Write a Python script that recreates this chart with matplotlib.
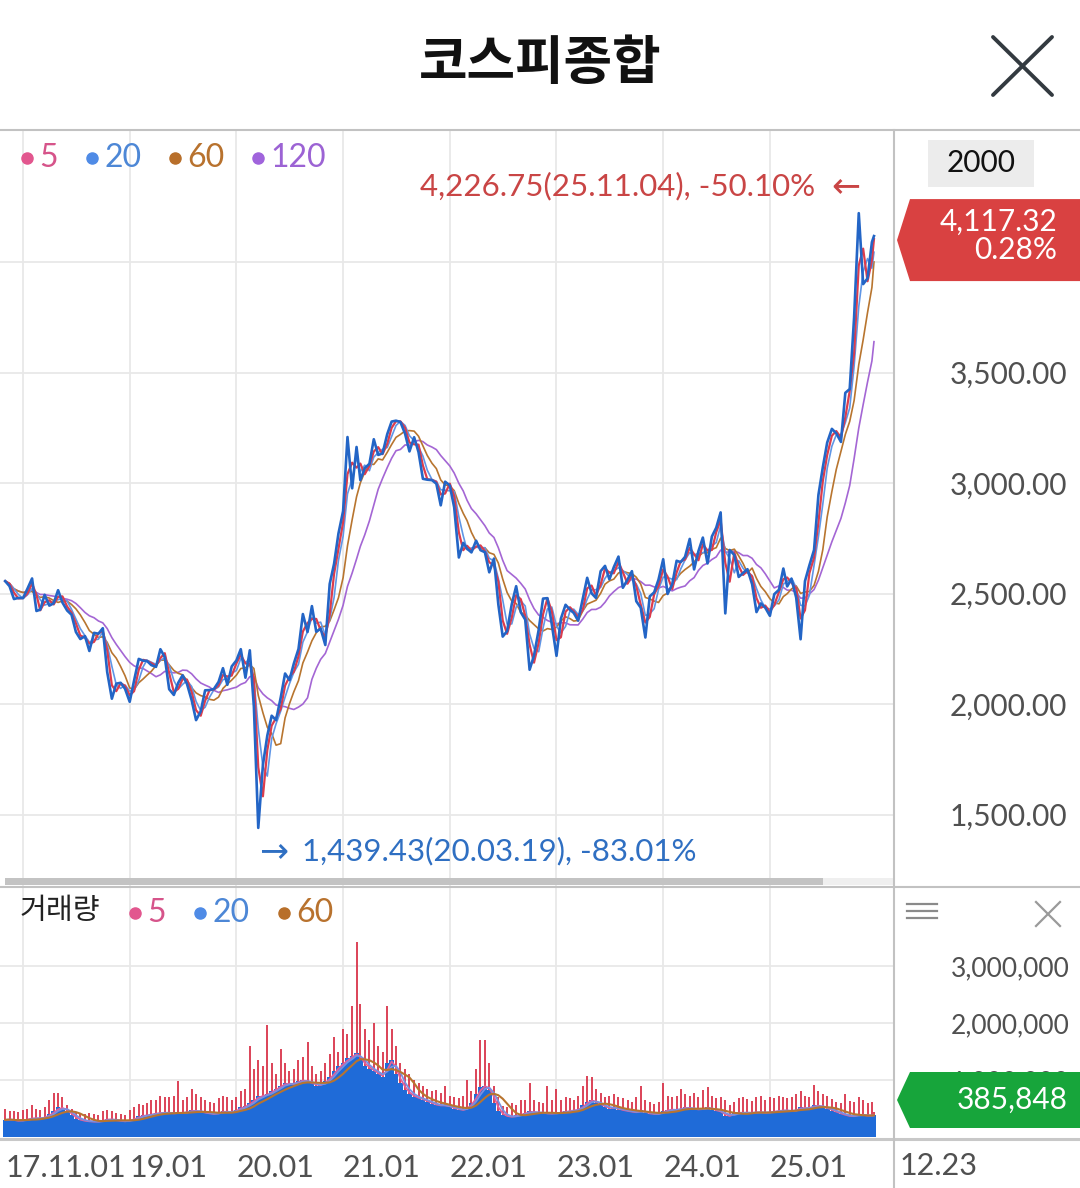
import numpy as np
import pandas as pd
import matplotlib
matplotlib.use("Agg")
import matplotlib.pyplot as plt
from matplotlib.patches import Rectangle, Polygon
from matplotlib.lines import Line2D

# --- KOSPI, two readings per month (1st and 16th) ---
price_2017 = [2556, 2533, 2475, 2480]
price_2018 = [2479, 2521, 2568, 2421, 2427, 2494, 2445, 2456, 2515, 2459, 2423, 2404,
              2326, 2294, 2307, 2240, 2322, 2318, 2343, 2145, 2024, 2092, 2096, 2069]
price_2019 = [2010, 2106, 2204, 2196, 2195, 2176, 2168, 2248, 2212, 2067, 2041, 2096,
              2130, 2091, 2017, 1927, 1967, 2062, 2063, 2068, 2100, 2162, 2087, 2170]
price_2020 = [2197, 2248, 2119, 2243, 1987, 1439.43, 1725, 1857, 1947, 1927, 2029, 2138,
              2108, 2183, 2249, 2407, 2326, 2443, 2327, 2341, 2267, 2543, 2634, 2771]
price_2021 = [2873, 3208, 2976, 3163, 3013, 3067, 3087, 3198, 3127, 3134, 3221, 3278,
              3282, 3276, 3223, 3143, 3207, 3140, 3019, 3015, 3013, 2997, 2899, 3006]
price_2022 = [2989, 2890, 2663, 2729, 2703, 2686, 2739, 2696, 2687, 2596, 2658, 2451,
              2305, 2330, 2452, 2533, 2415, 2382, 2155, 2219, 2335, 2477, 2479, 2360]
price_2023 = [2218, 2386, 2449, 2427, 2412, 2377, 2476, 2571, 2501, 2480, 2601, 2625,
              2564, 2619, 2667, 2526, 2563, 2601, 2465, 2436, 2301, 2487, 2505, 2563]
price_2024 = [2655, 2498, 2542, 2648, 2642, 2666, 2747, 2609, 2692, 2753, 2636, 2758,
              2798, 2867, 2410, 2697, 2674, 2575, 2593, 2610, 2542, 2416, 2455, 2436]
price_2025 = [2399, 2497, 2517, 2613, 2532, 2566, 2481, 2293, 2556, 2627, 2697, 2946,
              3071, 3183, 3245, 3225, 3186, 3408, 3425, 3748, 4221, 3900, 3926, 4090]
last_date = "2025-12-23"
last_close = 4117.32
last_change = "0.28%"

# volume in thousands: typical level and the highest day of each half month
vol_2017 = [300, 310, 290, 280]
hi_2017 = [500, 460, 450, 440]
vol_2018 = [300, 310, 340, 320, 330, 350, 400, 450, 520, 500, 450, 380,
            320, 290, 280, 270, 270, 270, 290, 320, 300, 290, 280, 270]
hi_2018 = [480, 500, 560, 500, 480, 520, 650, 780, 780, 700, 560, 500,
           430, 420, 400, 420, 400, 380, 450, 480, 460, 420, 400, 380]
vol_2019 = [300, 320, 360, 380, 380, 400, 420, 420, 430, 420, 410, 430,
            420, 440, 470, 450, 440, 420, 410, 400, 430, 450, 440, 430]
hi_2019 = [480, 520, 580, 560, 600, 650, 650, 720, 700, 700, 720, 980,
           650, 700, 850, 760, 700, 650, 620, 600, 680, 720, 700, 650]
vol_2020 = [480, 520, 540, 600, 650, 720, 720, 760, 800, 850, 900, 950,
            920, 940, 980, 1000, 960, 940, 900, 920, 980, 1050, 1150, 1250]
hi_2020 = [700, 800, 850, 1600, 1200, 1350, 1250, 1970, 1300, 1100, 1550, 1300,
           1150, 1200, 1350, 1400, 1660, 1250, 1100, 1150, 1300, 1450, 1750, 1500]
vol_2021 = [1300, 1380, 1420, 1480, 1350, 1250, 1200, 1150, 1100, 1050, 1300, 1350,
            1100, 950, 820, 750, 700, 680, 650, 620, 580, 560, 550, 560]
hi_2021 = [1900, 1800, 2300, 3420, 2340, 1900, 1700, 2000, 1600, 1500, 2300, 1900,
           1600, 1300, 1200, 1100, 1000, 950, 900, 850, 800, 820, 780, 900]
vol_2022 = [520, 500, 480, 470, 520, 600, 750, 880, 900, 820, 600, 450,
            380, 360, 350, 380, 400, 420, 450, 430, 420, 430, 400, 420]
hi_2022 = [720, 700, 680, 720, 1000, 800, 1200, 1700, 1700, 1300, 900, 700,
           550, 520, 600, 560, 650, 650, 950, 650, 620, 600, 900, 650]
vol_2023 = [420, 430, 450, 460, 470, 480, 560, 620, 650, 600, 560, 520,
            500, 520, 480, 470, 450, 440, 430, 470, 420, 410, 400, 410]
hi_2023 = [850, 650, 700, 680, 650, 720, 900, 1070, 1050, 850, 780, 700,
           720, 760, 700, 680, 650, 620, 700, 900, 650, 620, 580, 620]
vol_2024 = [450, 480, 480, 470, 500, 520, 500, 490, 480, 500, 520, 480,
            460, 440, 360, 380, 420, 430, 420, 430, 420, 440, 430, 420]
hi_2024 = [950, 720, 700, 720, 850, 760, 720, 780, 700, 820, 880, 720,
           680, 700, 650, 560, 620, 680, 700, 660, 640, 700, 720, 650]
vol_2025 = [440, 450, 460, 470, 460, 450, 480, 520, 500, 510, 560, 540,
            520, 500, 460, 430, 400, 380, 360, 370, 400, 380, 370, 380]
hi_2025 = [700, 680, 720, 700, 680, 700, 760, 800, 720, 700, 920, 800,
           760, 720, 660, 620, 600, 750, 640, 620, 700, 650, 600, 620]
vol_last = 385.848
hi_last = 430

# 4,000 line has no visible label (hidden under the price tag)
price_ticks = [1500, 2000, 2500, 3000, 3500, 4000]
price_tick_labels = ["1,500.00", "2,000.00", "2,500.00", "3,000.00", "3,500.00", ""]
vol_ticks = [1_000_000, 2_000_000, 3_000_000]
year_ticks = [2018, 2019, 2020, 2021, 2022, 2023, 2024, 2025]
year_labels = ["", "19.01", "20.01", "21.01", "22.01", "23.01", "24.01", "25.01"]
first_label = "17.11.01"
last_label = "12.23"

# moving average windows, in half-month steps (5, 20, 60, 120 trading days)
ma_steps = {5: 2, 20: 3, 60: 6, 120: 12}

price = np.array(price_2017 + price_2018 + price_2019 + price_2020 + price_2021
                 + price_2022 + price_2023 + price_2024 + price_2025 + [last_close])
vol = 1000 * np.array(vol_2017 + vol_2018 + vol_2019 + vol_2020 + vol_2021
                      + vol_2022 + vol_2023 + vol_2024 + vol_2025 + [vol_last])
vol_hi = 1000 * np.array(hi_2017 + hi_2018 + hi_2019 + hi_2020 + hi_2021
                         + hi_2022 + hi_2023 + hi_2024 + hi_2025 + [hi_last])

months = pd.date_range("2017-11-01", "2025-12-01", freq="MS")
dates = []
for m in months:
    dates += [m, m + pd.Timedelta(days=15)]
dates.append(pd.Timestamp(last_date))
dates = pd.DatetimeIndex(dates)
xs = dates.year + (dates.dayofyear - 1) / np.where(dates.is_leap_year, 366, 365)
assert len(xs) == len(price) == len(vol) == len(vol_hi)

ps = pd.Series(price)
vs = pd.Series(vol)

# ---------------------------------------------------------------
W, H = 1080, 1188
fig = plt.figure(figsize=(W / 100, H / 100), dpi=100)
fig.patch.set_facecolor("white")


def fx(px):
    return px / W


def fy(py):
    return 1 - py / H


NUM = ["Lato", "DejaVu Sans"]
KR = ["Noto Sans CJK KR", "DejaVu Sans"]
GRID = "#e8e8e8"
SEP = "#c2c2c2"
LBL = "#505050"

# one year = 106.7 px, 2018-01 grid line at x = 23 px
x_lo = 2018 - 23 / 106.7
x_hi = 2018 + (893 - 23) / 106.7

# ---- price panel ----
ax = fig.add_axes([0, fy(886), fx(893), (886 - 131) / H])
ax.set_xlim(x_lo, x_hi)
ax.set_ylim(1176.5, 4592.8)
for s in ax.spines.values():
    s.set_visible(False)
ax.set_xticks(year_ticks)
ax.tick_params(axis="x", length=0, labelbottom=False)
ax.yaxis.tick_right()
ax.set_yticks(price_ticks, labels=price_tick_labels)
ax.tick_params(axis="y", length=0, pad=125.3, labelsize=21.5, labelcolor=LBL)
for lbl in ax.get_yticklabels():
    lbl.set_ha("right")
    lbl.set_fontfamily(NUM)
ax.grid(True, color=GRID, lw=1.3)

ax.plot(xs, ps.rolling(ma_steps[120], min_periods=1).mean(), color="#a466d4", lw=1.2, zorder=2)
ax.plot(xs, ps.rolling(ma_steps[60], min_periods=1).mean(), color="#b8752f", lw=1.2, zorder=2.2)
ax.plot(xs, ps.rolling(ma_steps[20], min_periods=1).mean(), color="#5f96e6", lw=1.2, zorder=2.4)
ax.plot(xs, ps.rolling(ma_steps[5], min_periods=1).mean(), color="#dc3c4c", lw=1.6, zorder=2.6)
ax.plot(xs, price, color="#2365c6", lw=1.9, zorder=3)

# ---- volume panel ----
axv = fig.add_axes([0, fy(1137), fx(893), (1137 - 887) / H])
axv.set_xlim(x_lo, x_hi)
axv.set_ylim(0, (1137 - 887) / 57 * 1e6)
for s in axv.spines.values():
    s.set_visible(False)
axv.set_xticks(year_ticks, labels=year_labels)
axv.set_xticks([xs[0]], labels=[first_label], minor=True)
axv.tick_params(axis="x", which="both", length=0, pad=12.5, labelsize=22, labelcolor=LBL)
for lbl in axv.get_xticklabels(which="both"):
    lbl.set_ha("left")
    lbl.set_fontfamily(NUM)
axv.yaxis.tick_right()
axv.set_yticks(vol_ticks, labels=[f"{v:,}" for v in vol_ticks])
axv.tick_params(axis="y", length=0, pad=127.4, labelsize=19, labelcolor=LBL)
for lbl in axv.get_yticklabels():
    lbl.set_ha("right")
    lbl.set_fontfamily(NUM)
axv.grid(True, which="major", color=GRID, lw=1.3)

axv.vlines(xs, 0, vol_hi, color="#d9344a", lw=1.3, zorder=2)
axv.bar(xs, vol, width=0.045, color="#1f6bd8", lw=0, zorder=2.5)
axv.plot(xs, vs.rolling(ma_steps[5], min_periods=1).mean(), color="#e2609a", lw=1.3, zorder=3)
axv.plot(xs, vs.rolling(ma_steps[20], min_periods=1).mean(), color="#7a8fe0", lw=1.3, zorder=3.1)
axv.plot(xs, vs.rolling(ma_steps[60], min_periods=1).mean(), color="#b8742f", lw=1.5, zorder=3.2)


# ---- frame, separators, scrollbar ----
def hline(y, x0=0, x1=W, color=SEP, lw=1.5):
    fig.add_artist(Line2D([fx(x0), fx(x1)], [fy(y), fy(y)], transform=fig.transFigure,
                          color=color, lw=lw))


hline(130)
hline(887)
hline(1139, lw=2.2, color="#c8c8c8")
fig.add_artist(Line2D([fx(894), fx(894)], [fy(130), fy(1188)], transform=fig.transFigure,
                      color=SEP, lw=1.5))
fig.add_artist(Rectangle((fx(823), fy(885)), fx(70), 7 / H, transform=fig.transFigure,
                         color="#efefef", lw=0))
fig.add_artist(Rectangle((fx(5), fy(885)), fx(818), 7 / H, transform=fig.transFigure,
                         color="#c3c3c3", lw=0))

# ---- header ----
fig.text(0.5, fy(64), "코스피종합", ha="center", va="center", fontsize=38,
         fontweight="bold", family=KR, color="#111111")
for (a, b), (c, d) in [((993, 37), (1052, 95)), ((993, 95), (1052, 37))]:
    fig.add_artist(Line2D([fx(a), fx(c)], [fy(b), fy(d)], transform=fig.transFigure,
                          color="#333a40", lw=2.8, solid_capstyle="round"))

# ---- legends ----
price_leg = [("5", 27, "#e2568e", "#d6548a"), ("20", 92, "#4f8be6", "#4d87d6"),
             ("60", 175, "#b86f2a", "#b8722e"), ("120", 258, "#a064dc", "#9c63d4")]
for txt, x, dot, col in price_leg:
    fig.add_artist(Line2D([fx(x)], [fy(158)], transform=fig.transFigure, marker="o",
                          ms=8, color=dot, lw=0))
    fig.text(fx(x + 12), fy(158), txt, ha="left", va="center", fontsize=23,
             color=col, family=NUM)

fig.text(fx(20), fy(911), "거래량", ha="left", va="center", fontsize=21,
         color="#222222", family=KR)
vol_leg = [("5", 135, "#e2568e", "#d6548a"), ("20", 200, "#4f8be6", "#4d87d6"),
           ("60", 284, "#b86f2a", "#b8722e")]
for txt, x, dot, col in vol_leg:
    fig.add_artist(Line2D([fx(x)], [fy(913)], transform=fig.transFigure, marker="o",
                          ms=8, color=dot, lw=0))
    fig.text(fx(x + 12), fy(913), txt, ha="left", va="center", fontsize=23,
             color=col, family=NUM)

# ---- high / low notes ----
RED = "#c94545"
BLUE = "#2f6fc2"
fig.text(fx(815), fy(186), "4,226.75(25.11.04), -50.10%", ha="right", va="center",
         fontsize=22.5, color=RED, family=NUM)
fig.text(fx(846), fy(186), "←", ha="center", va="center", fontsize=25, color=RED,
         family=["DejaVu Sans"])
fig.text(fx(274), fy(851), "→", ha="center", va="center", fontsize=25, color=BLUE,
         family=["DejaVu Sans"])
fig.text(fx(302), fy(851), "1,439.43(20.03.19), -83.01%", ha="left", va="center",
         fontsize=22.5, color=BLUE, family=NUM)

# ---- right column ----
fig.add_artist(Rectangle((fx(928), fy(187)), fx(106), 47 / H, transform=fig.transFigure,
                         color="#ececec", lw=0))
fig.text(fx(981), fy(163), "2000", ha="center", va="center", fontsize=21.5,
         color="#111111", family=NUM)

# last price tag, centred on the last close
fig.canvas.draw()
yc = H - ax.transData.transform((xs[-1], last_close))[1] + 4
tag = [(897, yc), (910, yc - 41), (W, yc - 41), (W, yc + 41), (910, yc + 41)]
fig.add_artist(Polygon([(fx(a), fy(b)) for a, b in tag], closed=True,
                       transform=fig.transFigure, color="#d94141", lw=0))
fig.text(fx(1057), fy(yc - 4), f"{last_close:,.2f}\n{last_change}", ha="right",
         va="center", multialignment="right", linespacing=1.0,
         fontsize=21.5, color="white", family=NUM)

gy = 1100
gtag = [(897, gy), (910, gy - 28), (W, gy - 28), (W, gy + 28), (910, gy + 28)]
fig.add_artist(Polygon([(fx(a), fy(b)) for a, b in gtag], closed=True,
                       transform=fig.transFigure, color="#17a53b", lw=0))
fig.text(fx(1068), fy(gy), f"{vol_last * 1000:,.0f}", ha="right", va="center",
         fontsize=21.5, color="white", family=NUM)

for y in (904, 911, 918):
    hline(y, 907, 937, color="#8a8a8a", lw=1.6)
for (a, b), (c, d) in [((1036, 902), (1060, 926)), ((1036, 926), (1060, 902))]:
    fig.add_artist(Line2D([fx(a), fx(c)], [fy(b), fy(d)], transform=fig.transFigure,
                          color="#9a9a9a", lw=1.6))

fig.text(fx(900), fy(1166), last_label, ha="left", va="center", fontsize=22,
         color=LBL, family=NUM)

fig.savefig("out.png", dpi=100, facecolor="white")
